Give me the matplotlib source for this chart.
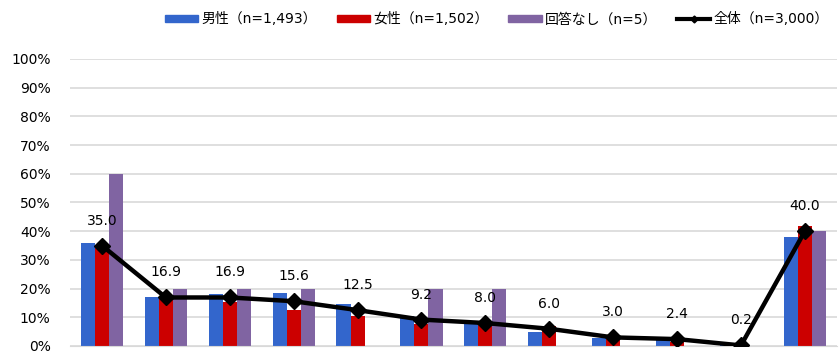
import numpy as np
import matplotlib.pyplot as plt
from matplotlib.lines import Line2D
from matplotlib.patches import Patch

plt.rcParams['font.family'] = ['DejaVu Sans', 'Noto Sans CJK JP']

# Share of respondents (%) per item, by gender and overall
male = [35.8, 17.2, 18.2, 18.4, 14.5, 10.5, 7.5, 4.9, 2.9, 3.3, 0.2, 38.1]
female = [34.3, 16.5, 15.3, 12.5, 10.3, 7.5, 8.5, 7.0, 3.1, 1.5, 0.2, 41.8]
no_answer = [60, 20, 20, 20, 0, 20, 20, 0, 0, 0, 0, 40]
total = [35.0, 16.9, 16.9, 15.6, 12.5, 9.2, 8.0, 6.0, 3.0, 2.4, 0.2, 40.0]

series_labels = ['男性（n=1,493）', '女性（n=1,502）', '回答なし（n=5）', '全体（n=3,000）']
colors = ['#3366cc', '#cc0000', '#8064a2']

x = np.arange(len(total))
w = 0.22

fig = plt.figure(figsize=(8.39, 3.54), dpi=100)
ax = fig.add_axes([0.0834, 0.0226, 0.914, 0.811])

for i, vals in enumerate([male, female, no_answer]):
    ax.bar(x + (i - 1) * w, vals, width=w, color=colors[i], zorder=2)

ax.plot(x, total, color='black', lw=3.2, marker='D', markersize=8, zorder=3)
for xi, v in zip(x, total):
    ax.annotate(f'{v:.1f}', (xi, v), xytext=(0, 18), textcoords='offset points',
                ha='center', va='center', fontsize=10, zorder=4)

ax.set_xlim(-0.5, len(total) - 0.5)
ax.set_ylim(0, 100)
ax.set_yticks(np.arange(0, 101, 10))
ax.set_yticklabels([f'{t}%' for t in range(0, 101, 10)], fontsize=10)
ax.set_xticks([])
ax.yaxis.grid(True, color='#d9d9d9', lw=1.2, zorder=0)
ax.set_axisbelow(True)
for s in ['top', 'right', 'left']:
    ax.spines[s].set_visible(False)
ax.spines['bottom'].set_color('#d9d9d9')
ax.tick_params(axis='y', length=0, pad=14)

handles = [Patch(color=c) for c in colors]
handles.append(Line2D([], [], color='black', lw=3, marker='D', markersize=3.5))
fig.legend(handles, series_labels, loc='upper left', bbox_to_anchor=(165 / 839, 0.965),
           ncol=4, frameon=False, fontsize=10, handlelength=2.4, handleheight=0.45,
           handletextpad=0.2, columnspacing=1.45, borderpad=0, borderaxespad=0)

fig.savefig('out.png', dpi=100)
